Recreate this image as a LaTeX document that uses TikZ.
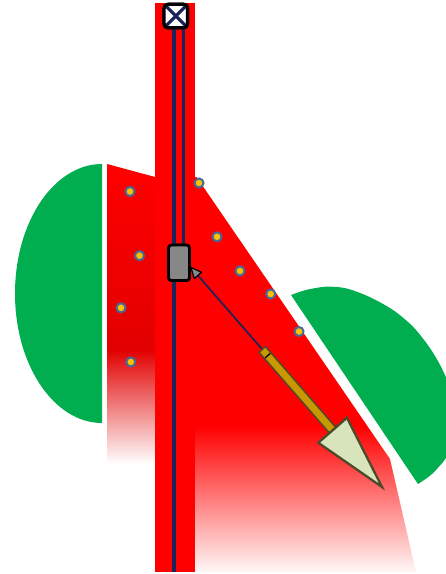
\documentclass[tikz,border=0pt]{standalone}
\usetikzlibrary{calc}
\definecolor{rred}{HTML}{FF0000}
\definecolor{darkred}{HTML}{E20000}
\definecolor{ggreen}{HTML}{00AE50}
\definecolor{navy}{HTML}{1B2459}
\definecolor{dotfill}{HTML}{FFC000}
\definecolor{dotring}{HTML}{44699B}
\definecolor{rodfill}{HTML}{C99800}
\definecolor{olive}{HTML}{4D4A2C}
\definecolor{headfill}{HTML}{D8E4BC}
\definecolor{slidergray}{HTML}{878787}
\begin{document}
\begin{tikzpicture}[x=1pt,y=-1pt,
  dot/.style={circle, draw=dotring, fill=dotfill, line width=2pt, inner sep=0pt, minimum size=9pt},
  xbox/.style={rectangle, draw=black, line width=3.2pt, fill=white, rounded corners=4pt,
    minimum size=23.5pt, inner sep=0pt,
    path picture={\draw[navy, line width=3.2pt]
      (path picture bounding box.south west) -- (path picture bounding box.north east)
      (path picture bounding box.north west) -- (path picture bounding box.south east);}},
  sliderbox/.style={rectangle, draw=black, line width=2.7pt, fill=slidergray, rounded corners=3pt,
    minimum width=21pt, minimum height=35.5pt, inner sep=0pt},
  rail/.style={navy, line width=4pt},
  thinrail/.style={navy, line width=2.4pt},
  wire/.style={navy, line width=1.7pt},
]
\useasboundingbox (0,0) rectangle (446,574);

% green half ellipses
\begin{scope}
  \clip (0,0) rectangle (102,574);
  \fill[ggreen] (102,293.5) ellipse [x radius=87, y radius=129.5];
\end{scope}
\fill[ggreen] plot[smooth] coordinates {(291,295) (306,290) (326,286.7) (346,288.3) (369,296.7) (393,310) (413,326.7) (429,346.7) (441,366.7) (450,388) (456,415) (455,440) (446,458) (432,474) (418,484)} -- cycle;

% left red region
\begin{scope}
  \clip (107,164) -- (157,177.5) -- (157,464) -- (107,464) -- cycle;
  \shade[top color=rred, bottom color=darkred] (100,160) rectangle (160,350);
  \shade[top color=darkred, bottom color=white] (100,350) rectangle (160,464);
\end{scope}

% right red region
\begin{scope}
  \clip (192,177) -- (196.5,177) -- (390,459) -- (416,572) -- (192,572) -- cycle;
  \fill[rred] (190,170) rectangle (420,426);
  \shade[top color=rred, bottom color=red!3] (190,426) rectangle (420,572);
\end{scope}

% vertical strip
\fill[rred] (155,3) rectangle (195,572);

% nodes
\node[xbox] (top) at (175.8,16) {};
\node[sliderbox] (slider) at (179,262.8) {};

% rails (drawn below the nodes, which are redrawn on top)
\coordinate (railA) at (174.3,572);
\coordinate (railB) at (183.5,0);
\draw[rail] (railA |- top.south) -- (railA);
\draw[thinrail] (railB |- top.south) -- (railB |- slider.north);
\node[sliderbox] at (slider) {};
\node[xbox] at (top) {};

% dots
\node[dot] (d1) at (130,191.5) {};
\node[dot] (d2) at (199,183) {};
\node[dot] (d3) at (139.5,255.7) {};
\node[dot] (d4) at (217,236.8) {};
\node[dot] (d5) at (121,307.8) {};
\node[dot] (d6) at (240,271) {};
\node[dot] (d7) at (130.8,362) {};
\node[dot] (d8) at (270.7,294) {};
\node[dot] (d9) at (299,331.5) {};

% pointer, wire, rod, arrowhead
\coordinate (ptip) at (191,267.5);
\coordinate (atip) at (382,487);
\coordinate (pb) at ($(ptip)!10.5/291.3!(atip)$);
\coordinate (rs) at ($(ptip)!108/291.3!(atip)$);
\coordinate (tk) at ($(ptip)!117/291.3!(atip)$);
\coordinate (rb) at ($(ptip)!216/291.3!(atip)$);

\draw[wire] (pb) -- (rs);
\filldraw[fill=slidergray, draw=black, line width=1.2pt, line join=round]
  (ptip) -- ($(pb)!4.8pt!90:(atip)$) -- ($(pb)!4.8pt!-90:(atip)$) -- cycle;

\draw[olive, line width=10pt] (rs) -- (rb);
\draw[rodfill, line width=6.8pt] ($(rs)!1.6pt!(rb)$) -- (rb);
\draw[black, line width=1.3pt] ($(tk)!3.4pt!90:(atip)$) -- ($(tk)!3.4pt!-90:(atip)$);

\filldraw[fill=headfill, draw=olive, line width=2.3pt, line join=miter]
  (atip) -- ($(rb)!19pt!90:(atip)$) -- ($(rb)!19pt!-90:(atip)$) -- cycle;
\end{tikzpicture}
\end{document}
